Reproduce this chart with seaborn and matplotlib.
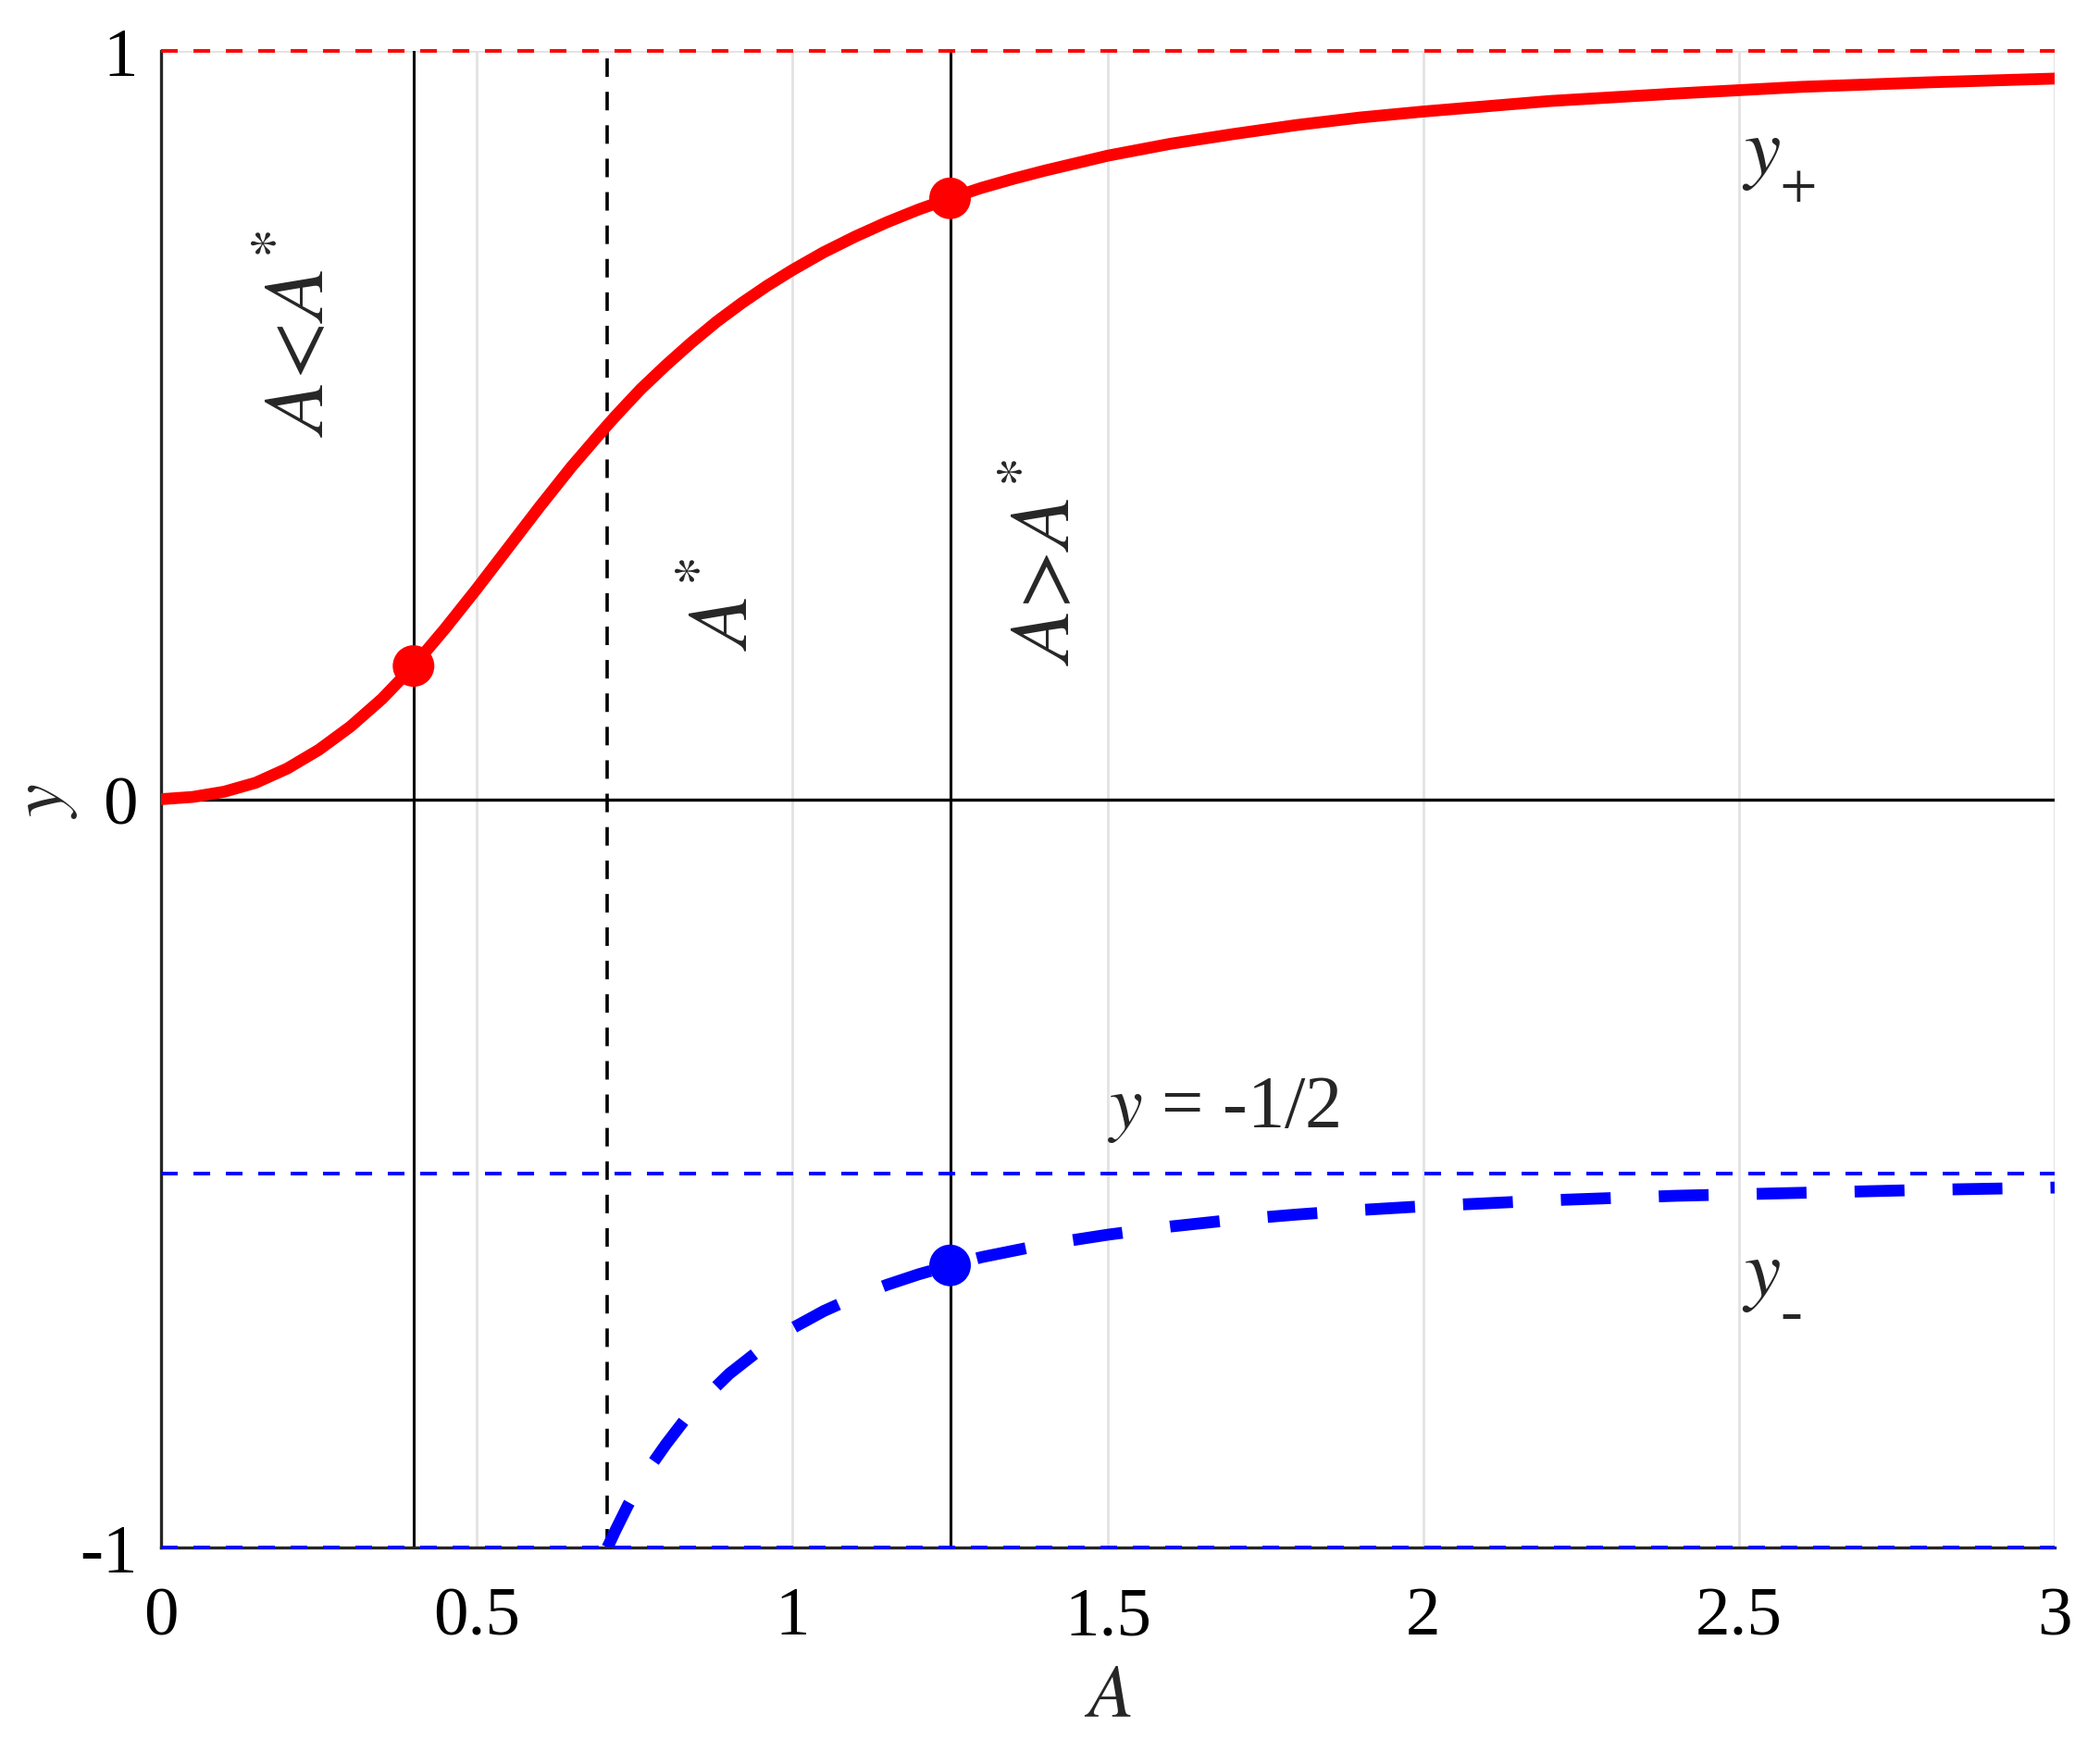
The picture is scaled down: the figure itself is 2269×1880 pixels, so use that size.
import matplotlib
matplotlib.use("Agg")
import matplotlib.pyplot as plt
import seaborn as sns
import pandas as pd

# ---------------- data ----------------
A_plus = [0.00, 0.05, 0.10, 0.15, 0.20, 0.25, 0.30, 0.35, 0.40, 0.45,
          0.50, 0.55, 0.60, 0.65, 0.70, 0.72, 0.76, 0.80, 0.84, 0.88,
          0.92, 0.96, 1.00, 1.05, 1.10, 1.15, 1.20, 1.25, 1.30, 1.35,
          1.40, 1.45, 1.50, 1.60, 1.70, 1.80, 1.90, 2.00, 2.20, 2.40,
          2.60, 2.80, 3.00]
y_plus = [0.000, 0.003, 0.010, 0.022, 0.041, 0.066, 0.097, 0.134, 0.178, 0.228,
          0.281, 0.336, 0.391, 0.444, 0.493, 0.512, 0.548, 0.580, 0.610, 0.638,
          0.663, 0.686, 0.707, 0.731, 0.752, 0.771, 0.788, 0.803, 0.817, 0.829,
          0.840, 0.850, 0.860, 0.876, 0.889, 0.901, 0.911, 0.919, 0.933, 0.943,
          0.952, 0.958, 0.963]

A_minus = [0.707, 0.71, 0.72, 0.74, 0.76, 0.78, 0.80, 0.83, 0.86, 0.90,
           0.95, 1.00, 1.05, 1.10, 1.15, 1.20, 1.25, 1.30, 1.40, 1.50,
           1.60, 1.70, 1.80, 1.90, 2.00, 2.20, 2.40, 2.60, 2.80, 3.00]
y_minus = [-1.000, -0.995, -0.977, -0.943, -0.913, -0.886, -0.862, -0.829, -0.801, -0.768,
           -0.735, -0.707, -0.684, -0.665, -0.649, -0.635, -0.623, -0.612, -0.595, -0.582,
           -0.571, -0.562, -0.555, -0.549, -0.544, -0.536, -0.530, -0.526, -0.522, -0.519]

marker_A_plus = [0.4, 1.25]
marker_y_plus = [0.178, 0.803]
marker_A_minus = [1.25]
marker_y_minus = [-0.623]

A_star = 0.707
A_left = 0.4
A_right = 1.25
y_upper_limit = 1.0
y_lower_asym = -0.5
y_bottom = -1.0

xticks = [0, 0.5, 1, 1.5, 2, 2.5, 3]
xtick_labels = ["0", "0.5", "1", "1.5", "2", "2.5", "3"]
yticks = [-1, 0, 1]
ytick_labels = ["-1", "0", "1"]

df_plus = pd.DataFrame({"A": A_plus, "y": y_plus})
df_minus = pd.DataFrame({"A": A_minus, "y": y_minus})

# ---------------- style ----------------
sns.set_style("white")
plt.rcParams["font.family"] = ["Liberation Serif", "DejaVu Serif"]
plt.rcParams["mathtext.fontset"] = "stix"
plt.rcParams["axes.unicode_minus"] = False
plt.rcParams["lines.scale_dashes"] = False

W, H, DPI = 2269, 1881, 200
fig = plt.figure(figsize=(W / DPI, H / DPI), dpi=DPI)
fig.patch.set_facecolor("white")
ax = fig.add_axes([174 / W, (H - 1673) / H, (2220 - 174) / W, (1673 - 56) / H])

ax.set_xlim(0, 3)
ax.set_ylim(-1, 1)
ax.grid(True, color="#e2e2e2", lw=1.0)
ax.set_axisbelow(True)

# reference lines
thin_dash = (0, (6.5, 6.1))
ax.axvline(A_left, color="black", lw=1.1, zorder=2)
ax.axvline(A_right, color="black", lw=1.1, zorder=2)
ax.axvline(A_star, color="black", lw=1.3, linestyle=(0, (7.2, 5.8)), zorder=2)
ax.axhline(0, color="black", lw=1.2, zorder=2)
ax.axhline(y_upper_limit, color="red", lw=1.4, linestyle=thin_dash, clip_on=False, zorder=3)
ax.axhline(y_lower_asym, color="blue", lw=1.4, linestyle=thin_dash, zorder=3)
ax.axhline(y_bottom, color="blue", lw=1.4, linestyle=thin_dash, clip_on=False, zorder=3)

# curves
sns.lineplot(data=df_plus, x="A", y="y", color="red", lw=4.6, sort=False,
             estimator=None, ax=ax, zorder=4)
sns.lineplot(data=df_minus, x="A", y="y", color="blue", lw=4.6, sort=False,
             estimator=None, ax=ax, zorder=4, linestyle=(0, (19.4, 18.7)))

# markers
sns.scatterplot(x=marker_A_plus, y=marker_y_plus, color="red", s=262,
                edgecolor="none", ax=ax, zorder=5)
sns.scatterplot(x=marker_A_minus, y=marker_y_minus, color="blue", s=262,
                edgecolor="none", ax=ax, zorder=5)

# axes styling
for s in ["top", "right"]:
    ax.spines[s].set_visible(False)
for s in ["left", "bottom"]:
    ax.spines[s].set_color("#262626")
    ax.spines[s].set_linewidth(1.2)
ax.set_xticks(xticks)
ax.set_xticklabels(xtick_labels)
ax.set_yticks(yticks)
ax.set_yticklabels(ytick_labels)
ax.tick_params(direction="in", length=7, width=1.0, color="#262626",
               labelcolor="black", labelsize=27)
ax.tick_params(axis="x", pad=15)
ax.tick_params(axis="y", pad=9)
ax.set_xlabel(r"$A$", fontsize=29, labelpad=6)
ax.set_ylabel(r"$y$", fontsize=29, labelpad=0)

# annotations
ax.text(0.222, 0.624, r"$A\!{<}\!A^{*}$", rotation=90, ha="center", va="center", fontsize=33)
ax.text(0.897, 0.262, r"$A^{*}$", rotation=90, ha="center", va="center", fontsize=33)
ax.text(1.405, 0.318, r"$A\!{>}\!A^{*}$", rotation=90, ha="center", va="center", fontsize=33)
ax.text(1.5, -0.437, r"$y$ = -1/2", ha="left", va="baseline", fontsize=29)
ax.text(2.504, 0.837, r"$y$", ha="left", va="baseline", fontsize=32)
ax.text(2.594, 0.813, "+", ha="center", va="center", fontsize=26)
ax.text(2.504, -0.662, r"$y$", ha="left", va="baseline", fontsize=32)
ax.text(2.582, -0.689, "-", ha="center", va="center", fontsize=26)

fig.savefig("out.png", dpi=DPI, facecolor="white")
